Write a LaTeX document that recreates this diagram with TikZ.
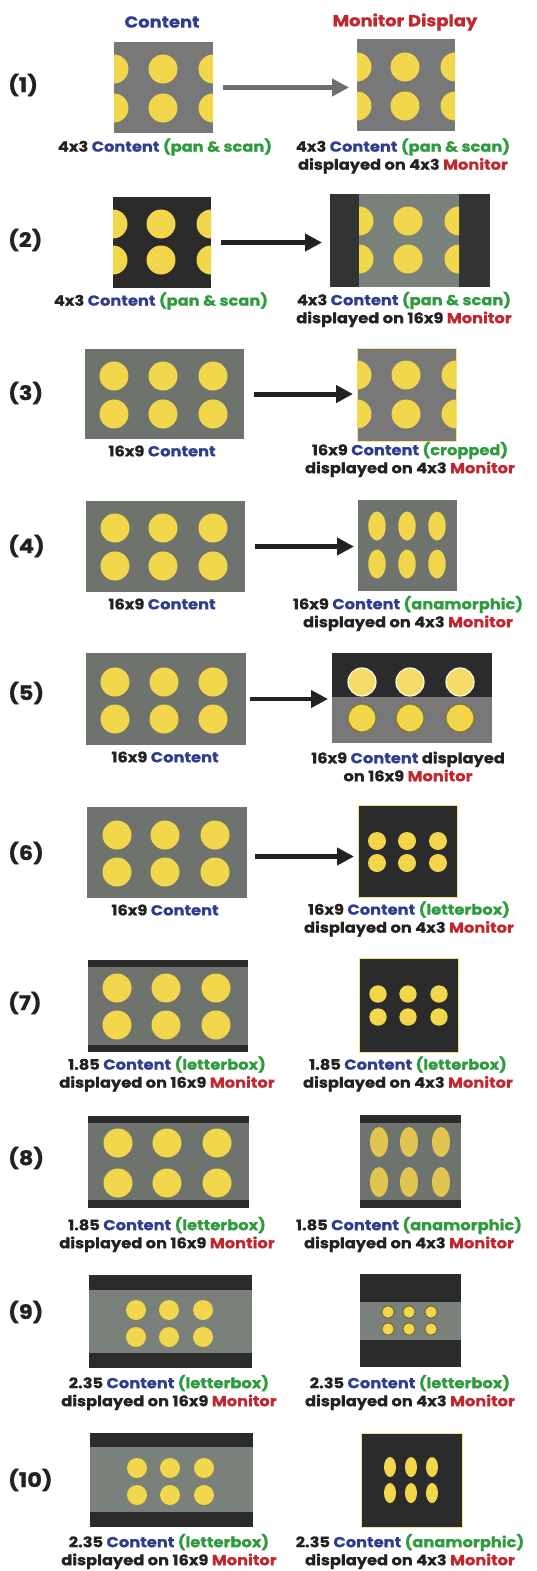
\documentclass[tikz,border=0pt]{standalone}
\usepackage{fontspec}
\setmainfont{Poppins}[FakeStretch=1.12,BoldFeatures={FakeBold=0.8}]
\usetikzlibrary{positioning,arrows.meta}
\definecolor{ctblue}{HTML}{2E3D8E}
\definecolor{ctgreen}{HTML}{2E9B3C}
\definecolor{ctred}{HTML}{C1272D}
\definecolor{txtdark}{HTML}{222222}
\definecolor{dotyel}{HTML}{F2D64B}
\definecolor{dotdim}{HTML}{E2C550}
\definecolor{scrgray}{HTML}{777877}
\definecolor{scrgreen}{HTML}{6E746D}
\definecolor{scrlight}{HTML}{7A807A}
\definecolor{scrdark}{HTML}{2A2B2A}
\definecolor{arrgray}{HTML}{6E6E6E}
\newcommand{\cnt}{\textcolor{ctblue}{Content}}
\newcommand{\mntr}{\textcolor{ctred}{Monitor}}
\newcommand{\kind}[1]{\textcolor{ctgreen}{(#1)}}
\tikzset{%
screen/.style 2 args={minimum width=#1pt,minimum height=#2pt,inner sep=0,outer sep=0},
disc/.style={fill=dotyel},
bar/.style={fill=scrdark},
rim/.style={draw=dotyel!70,line width=0.8pt},
lbl/.style={font=\fontsize{14.5}{18}\selectfont\bfseries,text=txtdark,align=center,inner sep=0},
rownum/.style={font=\fontsize{20}{22}\selectfont\bfseries,text=txtdark,anchor=west,inner sep=0},
coltitle/.style={font=\fontsize{16}{18}\selectfont\bfseries,inner sep=0},
conv/.style={-{Triangle[length=17pt,width=17pt]},line width=5pt,draw=txtdark,shorten <=10pt,shorten >=8pt}
}
\begin{document}
\begin{tikzpicture}[x=1pt,y=-1pt]
\useasboundingbox[fill=white] (0,0) rectangle (537,1571);

% headings
\node[coltitle,text=ctblue] (hc) at (162,22) {Content};
\node[coltitle,text=ctred] (hm) at (405,22) {Monitor Display};

% (1)
\node[rownum] (n1) at (8,85) {(1)};
\node[screen={99}{91},fill=scrgray] (c1) at (163.5,87.5) {};
\begin{scope}
  \clip (c1.north west) rectangle (c1.south east);
  \foreach \x in {114,163,213} \foreach \y in {69,108} \fill[disc] (\x,\y) circle (14.5pt);
\end{scope}
\node[screen={98}{92},fill=scrgray] (m1) at (406,85) {};
\begin{scope}
  \clip (m1.north west) rectangle (m1.south east);
  \foreach \x in {357,405,455} \foreach \y in {67,106} \fill[disc] (\x,\y) circle (14.5pt);
\end{scope}
\draw[conv,draw=arrgray] (c1.east) -- (c1.east -| m1.west);
\node[lbl] (l1) at (165,147) {4x3 \cnt{} \kind{pan \& scan}};
\node[lbl] (r1) at (403,156) {4x3 \cnt{} \kind{pan \& scan}\\displayed on 4x3 \mntr};

% (2)
\node[rownum] (n2) at (8,240) {(2)};
\node[screen={98}{91},fill=scrdark] (c2) at (162,242.5) {};
\begin{scope}
  \clip (c2.north west) rectangle (c2.south east);
  \foreach \x in {113,161,211} \foreach \y in {224,260} \fill[disc] (\x,\y) circle (14.5pt);
\end{scope}
\node[screen={160}{93},fill=scrlight] (m2) at (410,240.5) {};
\fill[fill=scrdark!90!scrlight] (m2.north west) rectangle ([xshift=29pt]m2.south west);
\fill[fill=scrdark!90!scrlight] ([xshift=-31pt]m2.north east) rectangle (m2.south east);
\begin{scope}
  \clip ([xshift=29pt]m2.north west) rectangle ([xshift=-31pt]m2.south east);
  \foreach \x in {359,408,459} \foreach \y in {221,259} \fill[disc] (\x,\y) circle (14.5pt);
\end{scope}
\draw[conv] (c2.east) -- (c2.east -| m2.west);
\node[lbl] (l2) at (161,301) {4x3 \cnt{} \kind{pan \& scan}};
\node[lbl] (r2) at (404,309.5) {4x3 \cnt{} \kind{pan \& scan}\\displayed on 16x9 \mntr};

% (3)
\node[rownum] (n3) at (8,393) {(3)};
\node[screen={159}{90},fill=scrgreen] (c3) at (164.5,394) {};
\foreach \x in {114,163,213} \foreach \y in {376,414} \fill[disc] (\x,\y) circle (14.5pt);
\node[screen={99}{93},fill=scrgray,rim] (m3) at (406.5,394.5) {};
\begin{scope}
  \clip (m3.north west) rectangle (m3.south east);
  \foreach \x in {357,406,456} \foreach \y in {375,414} \fill[disc] (\x,\y) circle (14.5pt);
\end{scope}
\draw[conv,shorten >=4pt] (c3.east) -- (c3.east -| m3.west);
\node[lbl] (l3) at (162,451) {16x9 \cnt};
\node[lbl] (r3) at (410,459.5) {16x9 \cnt{} \kind{cropped}\\displayed on 4x3 \mntr};

% (4)
\node[rownum] (n4) at (8,546) {(4)};
\node[screen={159}{91},fill=scrgreen] (c4) at (165.5,546.5) {};
\foreach \x in {115,163,213} \foreach \y in {528,566} \fill[disc] (\x,\y) circle (14.5pt);
\node[screen={99}{91},fill=scrgreen] (m4) at (407.5,545.5) {};
\foreach \x in {377,407,437} \foreach \y in {526,564} \fill[disc] (\x,\y) ellipse [x radius=8.7pt,y radius=14.5pt];
\draw[conv,shorten >=4pt] (c4.east) -- (c4.east -| m4.west);
\node[lbl] (l4) at (162,604) {16x9 \cnt};
\node[lbl] (r4) at (408,613.5) {16x9 \cnt{} \kind{anamorphic}\\displayed on 4x3 \mntr};

% (5)
\node[rownum] (n5) at (8,693) {(5)};
\node[screen={160}{92},fill=scrgreen] (c5) at (166,699) {};
\foreach \x in {115,164,213} \foreach \y in {682,719} \fill[disc] (\x,\y) circle (14.5pt);
\node[screen={160}{90},fill=scrgray] (m5) at (412,698) {};
\fill[bar] (m5.north west) rectangle ([yshift=-44pt]m5.north east);
\foreach \x in {362,410,460} {
  \filldraw[fill=dotyel!85!white,draw=white!85!dotyel,line width=1.2pt] (\x,682) circle (14pt);
  \filldraw[fill=dotyel,draw=dotyel!55!black,line width=1.2pt] (\x,718) circle (14pt);
}
\draw[conv,line width=4pt,shorten <=4pt,shorten >=4pt] (c5.east) -- (c5.east -| m5.west);
\node[lbl] (l5) at (165,757) {16x9 \cnt};
\node[lbl] (r5) at (408,766.5) {16x9 \cnt{} displayed\\on 16x9 \mntr};

% (6)
\node[rownum] (n6) at (8,853) {(6)};
\node[screen={160}{91},fill=scrgreen] (c6) at (167,852.5) {};
\foreach \x in {117,165,215} \foreach \y in {835,872} \fill[disc] (\x,\y) circle (14.5pt);
\node[screen={99}{92},fill=scrdark,rim] (m6) at (407.5,851) {};
\foreach \x in {377,407,438} \foreach \y in {841,863} \fill[disc] (\x,\y) circle (9pt);
\coordinate (a6) at ([yshift=-4pt]c6.east);
\draw[conv,shorten <=8pt,shorten >=4pt] (a6) -- (a6 -| m6.west);
\node[lbl] (l6) at (165,910) {16x9 \cnt};
\node[lbl] (r6) at (409,919) {16x9 \cnt{} \kind{letterbox}\\displayed on 4x3 \mntr};

% (7)
\node[rownum] (n7) at (8,1003) {(7)};
\node[screen={160}{92},fill=scrgreen] (c7) at (168,1006) {};
\fill[bar] (c7.north west) rectangle ([yshift=-7pt]c7.north east);
\fill[bar] ([yshift=7pt]c7.south west) rectangle (c7.south east);
\foreach \x in {117,166,216} \foreach \y in {988,1025} \fill[disc] (\x,\y) circle (14.5pt);
\node[screen={99}{94},fill=scrdark,rim] (m7) at (408.5,1005) {};
\foreach \x in {378,408,439} \foreach \y in {994,1017} \fill[disc] (\x,\y) circle (8.7pt);
\node[lbl] (l7) at (167,1074) {1.85 \cnt{} \kind{letterbox}\\displayed on 16x9 \mntr};
\node[lbl] (r7) at (408,1074) {1.85 \cnt{} \kind{letterbox}\\displayed on 4x3 \mntr};

% (8)
\node[rownum] (n8) at (8,1158) {(8)};
\node[screen={161}{92},fill=scrgreen] (c8) at (168.5,1162) {};
\fill[bar] (c8.north west) rectangle ([yshift=-7pt]c8.north east);
\fill[bar] ([yshift=8pt]c8.south west) rectangle (c8.south east);
\foreach \x in {118,167,217} \foreach \y in {1143,1183} \fill[disc] (\x,\y) circle (14.5pt);
\node[screen={101}{93},fill=scrgreen] (m8) at (410.5,1161.5) {};
\fill[bar] (m8.north west) rectangle ([yshift=-8pt]m8.north east);
\fill[bar] ([yshift=8pt]m8.south west) rectangle (m8.south east);
\foreach \x in {379,409,441} \foreach \y in {1142,1182} \fill[fill=dotdim] (\x,\y) ellipse [x radius=9pt,y radius=15pt];
\node[lbl] (l8) at (167,1234.5) {1.85 \cnt{} \kind{letterbox}\\displayed on 16x9 \textcolor{ctred}{Montior}};
\node[lbl] (r8) at (409,1234.5) {1.85 \cnt{} \kind{anamorphic}\\displayed on 4x3 \mntr};

% (9)
\node[rownum] (n9) at (8,1312) {(9)};
\node[screen={163}{93},fill=scrlight] (c9) at (170.5,1321.5) {};
\fill[bar] (c9.north west) rectangle ([yshift=-15pt]c9.north east);
\fill[bar] ([yshift=15pt]c9.south west) rectangle (c9.south east);
\foreach \x in {136,169,203} \foreach \y in {1310,1337} \fill[disc] (\x,\y) circle (10pt);
\node[screen={101}{93},fill=scrlight] (m9) at (410.5,1320.5) {};
\fill[bar] (m9.north west) rectangle ([yshift=-28pt]m9.north east);
\fill[bar] ([yshift=27pt]m9.south west) rectangle (m9.south east);
\foreach \x in {388,409,431} \foreach \y in {1312,1329} \filldraw[fill=dotyel,draw=dotyel!45!black,line width=0.8pt] (\x,\y) circle (6pt);
\node[lbl] (l9) at (169,1392.5) {2.35 \cnt{} \kind{letterbox}\\displayed on 16x9 \mntr};
\node[lbl] (r9) at (410,1392.5) {2.35 \cnt{} \kind{letterbox}\\displayed on 4x3 \mntr};

% (10)
\node[rownum] (n10) at (8,1480) {(10)};
\node[screen={163}{94},fill=scrlight] (c10) at (171.5,1480) {};
\fill[bar] (c10.north west) rectangle ([yshift=-14pt]c10.north east);
\fill[bar] ([yshift=15pt]c10.south west) rectangle (c10.south east);
\foreach \x in {137,170,204} \foreach \y in {1468,1495} \fill[disc] (\x,\y) circle (10pt);
\node[screen={101}{94},fill=scrdark,rim] (m10) at (411.5,1480) {};
\foreach \x in {390,411,432} \foreach \y in {1467,1493} \fill[disc] (\x,\y) ellipse [x radius=6pt,y radius=10pt];
\node[lbl] (l10) at (169,1551.5) {2.35 \cnt{} \kind{letterbox}\\displayed on 16x9 \mntr};
\node[lbl] (r10) at (410,1551.5) {2.35 \cnt{} \kind{anamorphic}\\displayed on 4x3 \mntr};

\end{tikzpicture}
\end{document}
